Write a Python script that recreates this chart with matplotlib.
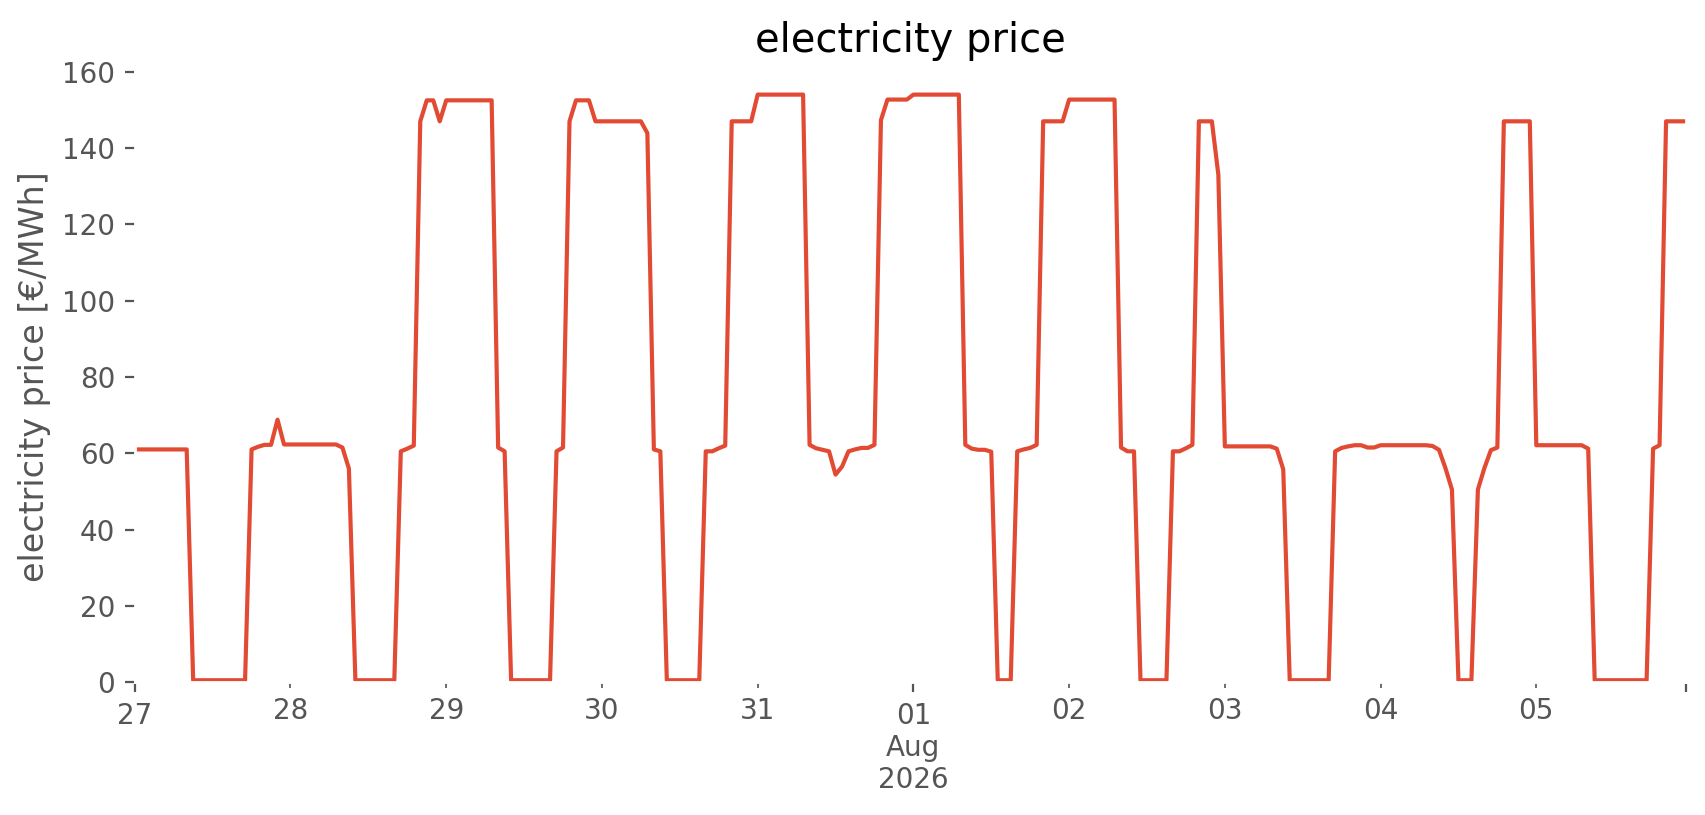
# -*- coding: utf-8 -*-
# hourly electricity price, one week and a bit
import numpy as np
import pandas as pd
import matplotlib
matplotlib.use('Agg')
import matplotlib.pyplot as plt

# hourly prices per day [EUR/MWh]
jul27 = [61.0, 61.0, 61.0, 61.0, 61.0, 61.0, 61.0, 61.0, 61.0, 0.5, 0.5, 0.5,
         0.5, 0.5, 0.5, 0.5, 0.5, 0.5, 61.0, 61.7, 62.2, 62.2, 68.8, 62.3]
jul28 = [62.3, 62.3, 62.3, 62.3, 62.3, 62.3, 62.3, 62.3, 61.5, 56.0, 0.5, 0.5,
         0.5, 0.5, 0.5, 0.5, 0.5, 60.5, 61.2, 62.0, 147.0, 152.5, 152.5, 147.0]
jul29 = [152.5, 152.5, 152.5, 152.5, 152.5, 152.5, 152.5, 152.5, 61.5, 60.5, 0.5, 0.5,
         0.5, 0.5, 0.5, 0.5, 0.5, 60.5, 61.5, 147.0, 152.5, 152.5, 152.5, 147.0]
jul30 = [147.0, 147.0, 147.0, 147.0, 147.0, 147.0, 147.0, 143.9, 61.0, 60.5, 0.5, 0.5,
         0.5, 0.5, 0.5, 0.5, 60.5, 60.5, 61.3, 62.0, 147.0, 147.0, 147.0, 147.0]
jul31 = [154.0, 154.0, 154.0, 154.0, 154.0, 154.0, 154.0, 154.0, 62.2, 61.3, 60.9, 60.5,
         54.4, 56.5, 60.5, 61.0, 61.4, 61.4, 62.2, 147.3, 152.7, 152.7, 152.7, 152.7]
aug01 = [154.0, 154.0, 154.0, 154.0, 154.0, 154.0, 154.0, 154.0, 62.2, 61.2, 60.9, 60.9,
         60.4, 0.5, 0.5, 0.5, 60.5, 61.0, 61.4, 62.2, 147.0, 147.0, 147.0, 147.0]
aug02 = [152.7, 152.7, 152.7, 152.7, 152.7, 152.7, 152.7, 152.7, 61.5, 60.5, 60.5, 0.5,
         0.5, 0.5, 0.5, 0.5, 60.5, 60.5, 61.3, 62.2, 147.0, 147.0, 147.0, 133.0]
aug03 = [61.8, 61.8, 61.8, 61.8, 61.8, 61.8, 61.8, 61.8, 61.2, 55.8, 0.5, 0.5,
         0.5, 0.5, 0.5, 0.5, 0.5, 60.5, 61.4, 61.8, 62.1, 62.1, 61.5, 61.5]
aug04 = [62.1, 62.1, 62.1, 62.1, 62.1, 62.1, 62.1, 62.1, 61.9, 60.9, 56.1, 50.5,
         0.5, 0.5, 0.5, 50.5, 56.1, 60.8, 61.5, 147.0, 147.0, 147.0, 147.0, 147.0]
aug05 = [62.1, 62.1, 62.1, 62.1, 62.1, 62.1, 62.1, 62.1, 61.2, 0.5, 0.5, 0.5,
         0.5, 0.5, 0.5, 0.5, 0.5, 0.5, 61.2, 62.1, 147.0, 147.0, 147.0, 147.0]

days = [jul27, jul28, jul29, jul30, jul31, aug01, aug02, aug03, aug04, aug05]
prices = np.concatenate(days)
index = pd.date_range('2026-07-27 00:00', periods=len(prices), freq='h')
price = pd.Series(prices, index=index, name='electricity price')

plt.style.use('ggplot')
plt.rcParams['axes.facecolor'] = 'white'
plt.rcParams['figure.facecolor'] = 'white'

fig, ax = plt.subplots(figsize=(8.53, 4.075), dpi=200)
price.plot(ax=ax, color='#E24A33', lw=1.5)
ax.grid(False)
ax.set_ylim(0, 160)
ax.set_xlabel('')
ax.set_ylabel('electricity price [€/MWh]')
ax.set_title('electricity price', color='black', pad=7)
fig.subplots_adjust(left=0.079, right=0.988, top=0.912, bottom=0.163)
plt.savefig('out.png', dpi=200, facecolor='white')
plt.close()
